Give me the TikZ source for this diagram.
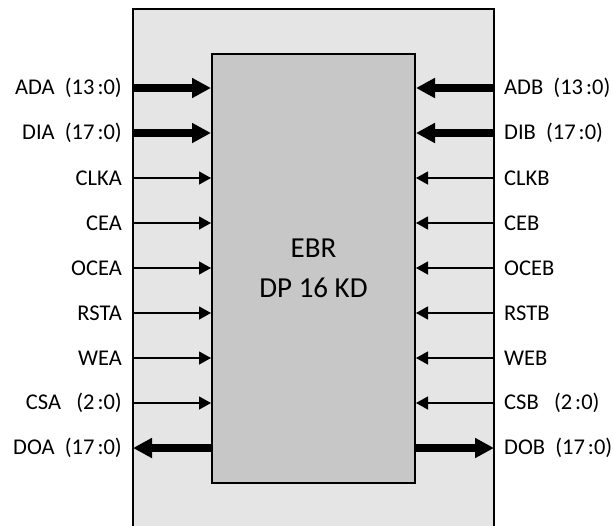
\documentclass[tikz,border=0pt]{standalone}
\usepackage{fontspec}
\setmainfont{Carlito}
\usetikzlibrary{arrows.meta}

\begin{document}
\begin{tikzpicture}[x=1pt, y=-1pt,
  bus/.style={line width=7.5pt, -{Triangle[length=19pt,width=19pt]}},
  sig/.style={line width=1.3pt, -{Triangle[length=12pt,width=13pt]}},
  pin/.style={font=\fontsize{22.5}{26}\selectfont, inner sep=0pt}]

\useasboundingbox (0,0) rectangle (613,525);
\clip (0,0) rectangle (613,525);

\filldraw [fill=black!10, line width=2pt] (133,9) rectangle (494,545);
\node (ebr) [draw, fill=black!22, line width=2pt, minimum width=203pt, minimum height=429pt,
  inner sep=0pt, align=center, font=\fontsize{29}{40}\selectfont] at (313.5,268) {EBR\\DP 16 KD};

% port A side
\coordinate (ada) at (133,88);
\coordinate (dia) at (133,133);
\coordinate (clka) at (133,178);
\coordinate (cea) at (133,223);
\coordinate (ocea) at (133,268);
\coordinate (rsta) at (133,313);
\coordinate (wea) at (133,358);
\coordinate (csa) at (133,403);
\coordinate (doa) at (133,448);

% port B side
\coordinate (adb) at (494,88);
\coordinate (dib) at (494,133);
\coordinate (clkb) at (494,178);
\coordinate (ceb) at (494,223);
\coordinate (oceb) at (494,268);
\coordinate (rstb) at (494,313);
\coordinate (web) at (494,358);
\coordinate (csb) at (494,403);
\coordinate (dob) at (494,448);

\draw [bus] (ada) -- (ada -| ebr.west);
\draw [bus] (dia) -- (dia -| ebr.west);
\draw [sig] (clka) -- (clka -| ebr.west);
\draw [sig] (cea) -- (cea -| ebr.west);
\draw [sig] (ocea) -- (ocea -| ebr.west);
\draw [sig] (rsta) -- (rsta -| ebr.west);
\draw [sig] (wea) -- (wea -| ebr.west);
\draw [sig] (csa) -- (csa -| ebr.west);
\draw [bus] (doa -| ebr.west) -- (doa);

\draw [bus] (adb) -- (adb -| ebr.east);
\draw [bus] (dib) -- (dib -| ebr.east);
\draw [sig] (clkb) -- (clkb -| ebr.east);
\draw [sig] (ceb) -- (ceb -| ebr.east);
\draw [sig] (oceb) -- (oceb -| ebr.east);
\draw [sig] (rstb) -- (rstb -| ebr.east);
\draw [sig] (web) -- (web -| ebr.east);
\draw [sig] (csb) -- (csb -| ebr.east);
\draw [bus] (dob -| ebr.east) -- (dob);

\node (adal) [pin, anchor=east] at (122,88) {ADA~~(13\hspace{3pt}:0)};
\node (dial) [pin, anchor=east] at (122,133) {DIA~~(17\hspace{3pt}:0)};
\node (clkal) [pin, anchor=east] at (122,178) {CLKA};
\node (ceal) [pin, anchor=east] at (122,223) {CEA};
\node (oceal) [pin, anchor=east] at (122,268) {OCEA};
\node (rstal) [pin, anchor=east] at (122,313) {RSTA};
\node (weal) [pin, anchor=east] at (122,358) {WEA};
\node (csal) [pin, anchor=east] at (122,403) {CSA~~~(2\hspace{3pt}:0)};
\node (doal) [pin, anchor=east] at (122,448) {DOA~~(17\hspace{3pt}:0)};

\node (adbl) [pin, anchor=west] at (504,88) {ADB~~(13\hspace{3pt}:0)};
\node (dibl) [pin, anchor=west] at (504,133) {DIB~~(17\hspace{3pt}:0)};
\node (clkbl) [pin, anchor=west] at (504,178) {CLKB};
\node (cebl) [pin, anchor=west] at (504,223) {CEB};
\node (ocebl) [pin, anchor=west] at (504,268) {OCEB};
\node (rstbl) [pin, anchor=west] at (504,313) {RSTB};
\node (webl) [pin, anchor=west] at (504,358) {WEB};
\node (csbl) [pin, anchor=west] at (504,403) {CSB~~~(2\hspace{3pt}:0)};
\node (dobl) [pin, anchor=west] at (504,448) {DOB~~(17\hspace{3pt}:0)};

\end{tikzpicture}
\end{document}
